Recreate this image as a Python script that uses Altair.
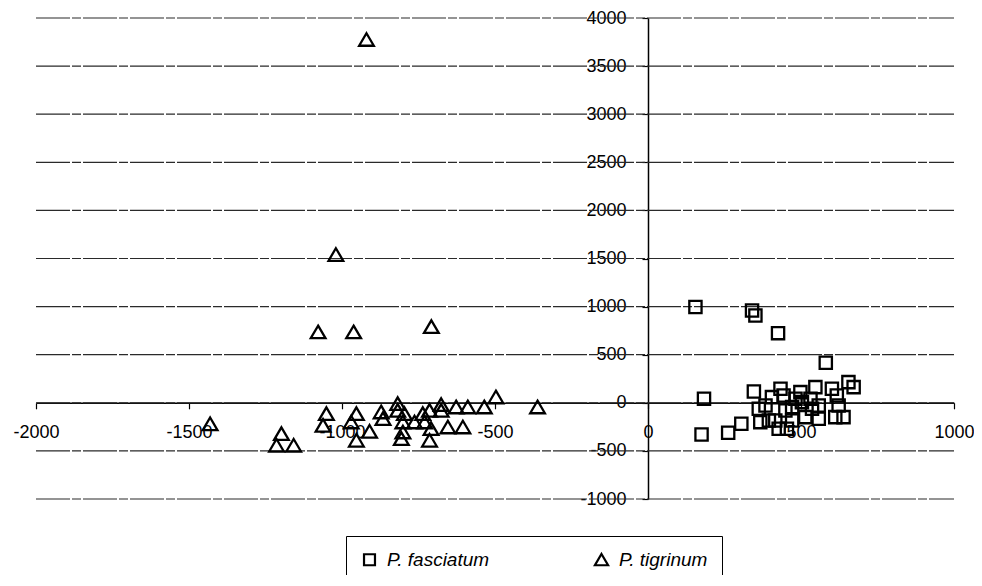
import altair as alt
import pandas as pd

species = ["P. fasciatum", "P. tigrinum"]

fasc_x = [155, 340, 351, 425, 581, 183, 175, 262, 305, 346, 362, 367, 384, 405, 416, 433, 443, 449, 454, 471,
          471, 498, 503, 514, 531, 547, 558, 558, 601, 617, 623, 612, 639, 655, 672, 482, 427, 395, 536]
fasc_y = [995, 960, 908, 724, 416, 42, -329, -312, -218, 118, -62, -201, -28, 59, -184, 146, 76, -80, -270, -45,
          -184, 111, 7, -149, 42, 163, -28, -166, 146, 76, -28, -149, -149, 215, 163, 42, -270, -184, -62]

tig_x = [-920, -1020, -1078, -962, -708, -1431, -1198, -1214, -1158, -1051, -1062, -953, -970, -953, -910, -872,
         -866, -818, -818, -796, -801, -801, -806, -763, -736, -730, -709, -714, -714, -676, -676, -654, -627,
         -605, -589, -535, -497, -361]
tig_y = [3775, 1540, 735, 735, 790, -220, -322, -443, -443, -114, -236, -114, -201, -391, -298, -97,
         -166, -10, -80, -114, -201, -305, -374, -201, -114, -201, -270, -391, -80, -21, -80, -253, -45,
         -253, -45, -45, 59, -45]

x_ticks = [-2000, -1500, -1000, -500, 0, 500, 1000]
y_ticks = [-1000, -500, 0, 500, 1000, 1500, 2000, 2500, 3000, 3500, 4000]

W, H = 918, 481
X0, X1 = -2000, 1000
Y0, Y1 = -1000, 4000
FONT = "Liberation Sans"
TRI = "M0,-1.05L1.2,1.0L-1.2,1.0Z"

df = pd.DataFrame({
    "x": fasc_x + tig_x,
    "y": fasc_y + tig_y,
    "species": [species[0]] * len(fasc_x) + [species[1]] * len(tig_x),
})
grid = pd.DataFrame({"v": y_ticks})

xscale = alt.Scale(domain=[X0, X1], nice=False, zero=False)
yscale = alt.Scale(domain=[Y0, Y1], nice=False, zero=False)

xaxis = alt.Axis(values=x_ticks, title=None, offset=-H * (0 - Y0) / (Y1 - Y0),
                 labelFont=FONT, labelFontSize=18, labelColor="black", labelPadding=15,
                 tickSize=6, tickColor="black", tickWidth=1.2, domainColor="black", domainWidth=1.5,
                 grid=False, labelFlush=False, labelOverlap=False, labelExpr="'' + datum.value")
yaxis = alt.Axis(values=y_ticks, title=None, offset=-W * (0 - X0) / (X1 - X0),
                 labelFont=FONT, labelFontSize=18, labelColor="black", labelPadding=16,
                 tickSize=6, tickColor="black", tickWidth=1.2, domainColor="black", domainWidth=1.5,
                 grid=False, labelFlush=False, labelOverlap=False, labelExpr="'' + datum.value")

rules = alt.Chart(grid).mark_rule(color="#2a2a2a", strokeWidth=1.2, strokeDash=[34, 2, 9, 2]).encode(
    y=alt.Y("v:Q", scale=yscale, axis=yaxis),
    x=alt.XDatum(X0, type="quantitative", scale=xscale, axis=xaxis),
    x2=alt.X2Datum(X1),
)

pts = alt.Chart(df).mark_point(filled=False, strokeWidth=2.3, opacity=1, color="black", size=150).encode(
    x=alt.X("x:Q", scale=xscale, axis=xaxis),
    y=alt.Y("y:Q", scale=yscale, axis=yaxis),
    shape=alt.Shape("species:N", scale=alt.Scale(domain=species, range=["square", TRI]),
                    legend=alt.Legend(title=None, orient="none", legendX=310, legendY=518,
                                      direction="horizontal", columns=2, columnPadding=100,
                                      labelFont=FONT, labelFontSize=19, labelFontStyle="italic",
                                      labelColor="black", symbolSize=120, symbolStrokeWidth=2.2,
                                      symbolStrokeColor="black", strokeColor="black",
                                      padding=14, labelOffset=8)),
)

chart = alt.layer(rules, pts).properties(
    width=W, height=H,
    padding={"left": 28, "top": 10, "right": 20, "bottom": 76},
    autosize=alt.AutoSizeParams(type="none"),
    background="white",
).configure_view(stroke=None)

chart.save("out.html", embed_options={"renderer": "svg", "actions": False})
